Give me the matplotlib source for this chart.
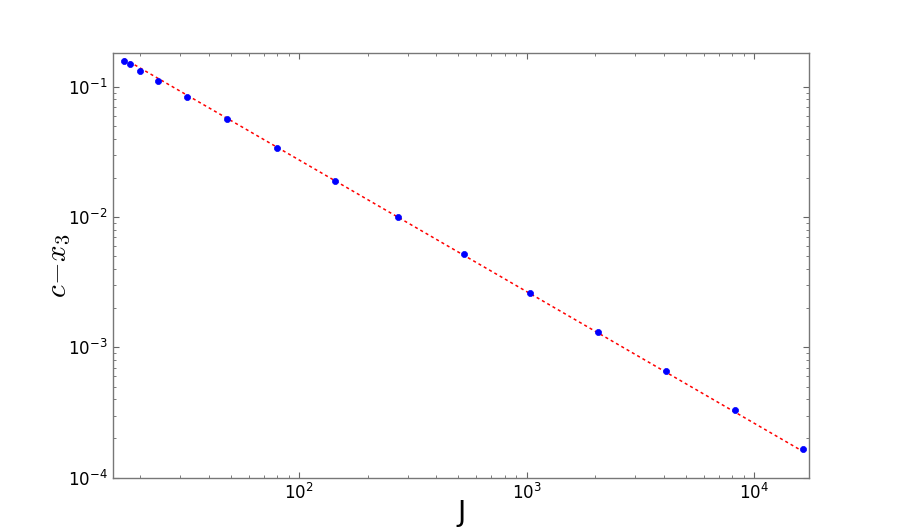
import matplotlib
matplotlib.use("Agg")
import matplotlib.pyplot as plt
import numpy as np

plt.rcParams['font.family'] = ['DejaVu Sans']
plt.rcParams['mathtext.fontset'] = 'cm'
plt.rcParams['axes.unicode_minus'] = False

# data
J = [17, 18, 20, 24, 32, 48, 80, 144, 272, 528, 1040, 2064, 4112, 8208, 16400]
c_minus_x3 = [0.1566, 0.1486, 0.1327, 0.111, 0.0834, 0.0562, 0.03384, 0.01889,
              0.00999, 0.005173, 0.002624, 0.001318, 0.000661, 0.000331, 0.000165]
fit_J = [17, 16400]
fit_y = [0.164, 0.000159]

fig = plt.figure(figsize=(9, 5.31), dpi=100)
ax = fig.add_axes([0.1256, 0.1004, 0.7737, 0.7998])

ax.plot(fit_J, fit_y, color='red', linestyle=(0, (2, 2)), linewidth=1.1, zorder=2)
ax.plot(J, c_minus_x3, 'o', color='blue', markersize=4.4, markeredgecolor='blue',
        markeredgewidth=0.5, zorder=3)

ax.set_xscale('log')
ax.set_yscale('log')
ax.set_xlim(15.2, 17500)
ax.set_ylim(1e-4, 0.1815)

ax.tick_params(which='both', direction='in', top=True, right=True, labelsize=12,
               color='#666666')
ax.tick_params(which='major', length=4, width=0.8, pad=4)
ax.tick_params(which='minor', length=2, width=0.6)
for s in ax.spines.values():
    s.set_color('#777777')
    s.set_linewidth(1.0)

ax.set_xlabel('J', fontsize=20)
ax.xaxis.set_label_coords(0.5, -0.05)
ax.set_ylabel(r'$c\!-\!x_3$', fontsize=21)
ax.yaxis.set_label_coords(-0.058, 0.5)

fig.savefig('out.png', dpi=100, facecolor='white')
